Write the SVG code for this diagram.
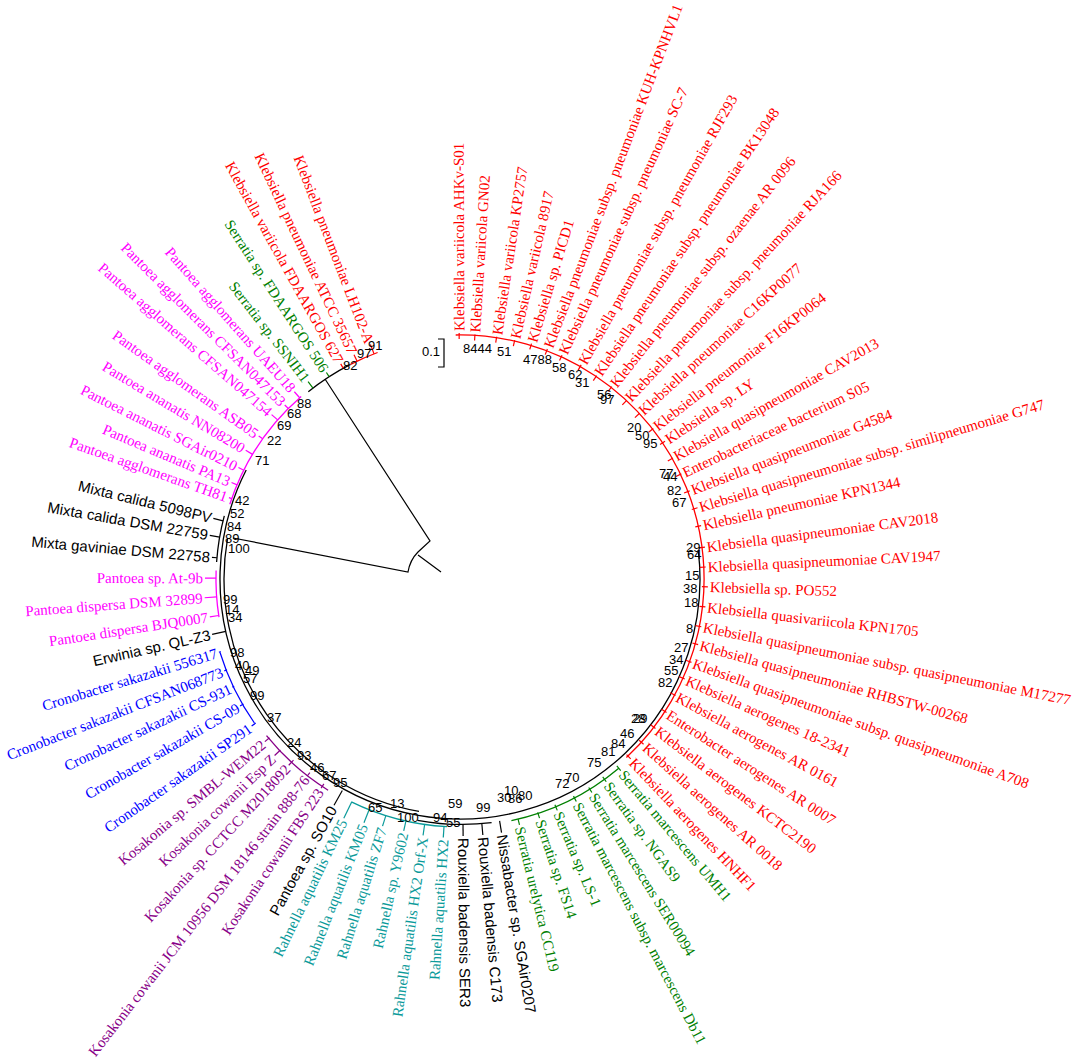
<svg xmlns="http://www.w3.org/2000/svg" width="1084" height="1063" viewBox="0 0 1084 1063">
<style>
text{font-family:"Liberation Serif","Times New Roman",serif;font-size:15px}
.sans text,text.sans{font-family:"Liberation Sans",Arial,sans-serif}
.red text{fill:#f00}.red line{stroke:#f00}
.grn text{fill:#008000}.grn line{stroke:#008000}
.blk text{fill:#000}.blk line{stroke:#000}
.teal text{fill:#0a9a9a}.teal line{stroke:#0a9a9a}
.pur text{fill:#880088}.pur line{stroke:#880088}
.blu text{fill:#0000ff}.blu line{stroke:#0000ff}
.mag text{fill:#ff00ff}.mag line{stroke:#ff00ff}
line{stroke-width:1.2}
.L text{text-anchor:end}
#bootstrap text{font-family:"Liberation Sans",Arial,sans-serif;font-size:13px;fill:#000}
.arc{fill:none;stroke-width:1.3}
</style>
<rect width="1084" height="1063" fill="#fff"/>
<g id="connectors">
<path class="arc" stroke="#f00" d="M455.7,335 A244,244 0 0 1 626.4,757.5"/>
<path class="arc" stroke="#000" d="M698.2,549.8 A240,240 0 1 1 246.2,470"/>
<path class="arc" stroke="#000" d="M419,811.4 A236,236 0 0 1 227.6,538"/>
<path class="arc" stroke="#000" d="M491.6,822.7 A245,245 0 0 1 417.5,820.3"/>
<path class="arc" stroke="#008000" d="M618.8,768.2 A247,247 0 0 1 511.4,820.6"/>
<path class="arc" stroke="#0a9a9a" d="M447,826.7 A248,248 0 0 1 351.3,801.9"/>
<path class="arc" stroke="#880088" d="M328.1,790.2 A249,249 0 0 1 266.5,735.7"/>
<path class="arc" stroke="#0000ff" d="M254.4,723 A251,251 0 0 1 220,652.4"/>
<path class="arc" stroke="#ff00ff" d="M219,617.2 A244,244 0 0 1 216.1,570.5"/>
<path class="arc" stroke="#000" d="M216.6,562 A244,244 0 0 1 224.3,515.8"/>
<path class="arc" stroke="#ff00ff" d="M229.8,504.2 A242,242 0 0 1 301.2,396.4"/>
<path class="arc" stroke="#000" d="M308.3,391.7 A241,241 0 0 1 350.6,364.3"/>
<path class="arc" stroke="#f00" d="M350.6,364.3 A241,241 0 0 1 377.6,352.5"/>
<path fill="none" stroke="#000" stroke-width="1.2" d="M325,379 L430,541 L418,552 Q410,560 408,572 L233,538 M418,555 L441,572"/>
<path fill="none" stroke="#000" stroke-width="1.2" d="M438,339 H444 V367 H438"/>
</g>
<text class="sans" x="422" y="356" style="font-size:13px">0.1</text>
<g id="leaf1" class="red" transform="rotate(-90.2 460 579)"><line x1="700" y1="579" x2="706" y2="579"/><text x="708" y="579" dy=".35em">Klebsiella variicola AHKv-S01</text></g>
<g id="leaf2" class="red" transform="rotate(-86.5 460 579)"><line x1="699" y1="579" x2="705" y2="579"/><text x="707" y="579" dy=".35em">Klebsiella variicola GN02</text></g>
<g id="leaf3" class="red" transform="rotate(-81.4 460 579)"><line x1="699" y1="579" x2="705" y2="579"/><text x="707" y="579" dy=".35em">Klebsiella variicola KP2757</text></g>
<g id="leaf4" class="red" transform="rotate(-77.1 460 579)"><line x1="699" y1="579" x2="705" y2="579"/><text x="707" y="579" dy=".35em">Klebsiella variicola 8917</text></g>
<g id="leaf5" class="red" transform="rotate(-73.1 460 579)"><line x1="700" y1="579" x2="706" y2="579"/><text x="708" y="579" dy=".35em">Klebsiella sp. PICD1</text></g>
<g id="leaf6" class="red" transform="rotate(-69.2 460 579)"><line x1="700" y1="579" x2="706" y2="579"/><text x="708" y="579" dy=".35em">Klebsiella pneumoniae subsp. pneumoniae KUH-KPNHVL1</text></g>
<g id="leaf7" class="red" transform="rotate(-65.5 460 579)"><line x1="700" y1="579" x2="706" y2="579"/><text x="708" y="579" dy=".35em">Klebsiella pneumoniae subsp. pneumoniae SC-7</text></g>
<g id="leaf8" class="red" transform="rotate(-60.5 460 579)"><line x1="700" y1="579" x2="706" y2="579"/><text x="708" y="579" dy=".35em">Klebsiella pneumoniae subsp. pneumoniae RJF293</text></g>
<g id="leaf9" class="red" transform="rotate(-56.1 460 579)"><line x1="699" y1="579" x2="705" y2="579"/><text x="707" y="579" dy=".35em">Klebsiella pneumoniae subsp. pneumoniae BK13048</text></g>
<g id="leaf10" class="red" transform="rotate(-51.7 460 579)"><line x1="699" y1="579" x2="705" y2="579"/><text x="707" y="579" dy=".35em">Klebsiella pneumoniae subsp. ozaenae AR 0096</text></g>
<g id="leaf11" class="red" transform="rotate(-47 460 579)"><line x1="698" y1="579" x2="704" y2="579"/><text x="706" y="579" dy=".35em">Klebsiella pneumoniae subsp. pneumoniae RJA166</text></g>
<g id="leaf12" class="red" transform="rotate(-42.7 460 579)"><line x1="698" y1="579" x2="704" y2="579"/><text x="706" y="579" dy=".35em">Klebsiella pneumoniae C16KP0077</text></g>
<g id="leaf13" class="red" transform="rotate(-37.9 460 579)"><line x1="699" y1="579" x2="705" y2="579"/><text x="707" y="579" dy=".35em">Klebsiella pneumoniae F16KP0064</text></g>
<g id="leaf14" class="red" transform="rotate(-33.9 460 579)"><line x1="701" y1="579" x2="707" y2="579"/><text x="709" y="579" dy=".35em">Klebsiella sp. LY</text></g>
<g id="leaf15" class="red" transform="rotate(-29.6 460 579)"><line x1="699" y1="579" x2="705" y2="579"/><text x="707" y="579" dy=".35em">Klebsiella quasipneumoniae CAV2013</text></g>
<g id="leaf16" class="red" transform="rotate(-25.4 460 579)"><line x1="699" y1="579" x2="705" y2="579"/><text x="707" y="579" dy=".35em">Enterobacteriaceae bacterium S05</text></g>
<g id="leaf17" class="red" transform="rotate(-21 460 579)"><line x1="700" y1="579" x2="706" y2="579"/><text x="708" y="579" dy=".35em">Klebsiella quasipneumoniae G4584</text></g>
<g id="leaf18" class="red" transform="rotate(-16.7 460 579)"><line x1="702" y1="579" x2="708" y2="579"/><text x="710" y="579" dy=".35em">Klebsiella quasipneumoniae subsp. similipneumoniae G747</text></g>
<g id="leaf19" class="red" transform="rotate(-12.5 460 579)"><line x1="701" y1="579" x2="707" y2="579"/><text x="709" y="579" dy=".35em">Klebsiella pneumoniae KPN1344</text></g>
<g id="leaf20" class="red" transform="rotate(-7.4 460 579)"><line x1="701" y1="579" x2="707" y2="579"/><text x="709" y="579" dy=".35em">Klebsiella quasipneumoniae CAV2018</text></g>
<g id="leaf21" class="red" transform="rotate(-2.8 460 579)"><line x1="700" y1="579" x2="706" y2="579"/><text x="708" y="579" dy=".35em">Klebsiella quasipneumoniae CAV1947</text></g>
<g id="leaf22" class="red" transform="rotate(1.8 460 579)"><line x1="702" y1="579" x2="708" y2="579"/><text x="710" y="579" dy=".35em">Klebsiella sp. PO552</text></g>
<g id="leaf23" class="red" transform="rotate(6.5 460 579)"><line x1="701" y1="579" x2="707" y2="579"/><text x="709" y="579" dy=".35em">Klebsiella quasivariicola KPN1705</text></g>
<g id="leaf24" class="red" transform="rotate(11.2 460 579)"><line x1="700" y1="579" x2="706" y2="579"/><text x="708" y="579" dy=".35em">Klebsiella quasipneumoniae subsp. quasipneumoniae M17277</text></g>
<g id="leaf25" class="red" transform="rotate(15.4 460 579)"><line x1="701" y1="579" x2="707" y2="579"/><text x="709" y="579" dy=".35em">Klebsiella quasipneumoniae RHBSTW-00268</text></g>
<g id="leaf26" class="red" transform="rotate(19.8 460 579)"><line x1="700" y1="579" x2="706" y2="579"/><text x="708" y="579" dy=".35em">Klebsiella quasipneumoniae subsp. quasipneumoniae A708</text></g>
<g id="leaf27" class="red" transform="rotate(24 460 579)"><line x1="700" y1="579" x2="706" y2="579"/><text x="708" y="579" dy=".35em">Klebsiella aerogenes 18-2341</text></g>
<g id="leaf28" class="red" transform="rotate(28.4 460 579)"><line x1="699" y1="579" x2="705" y2="579"/><text x="707" y="579" dy=".35em">Klebsiella aerogenes AR 0161</text></g>
<g id="leaf29" class="red" transform="rotate(32.9 460 579)"><line x1="700" y1="579" x2="706" y2="579"/><text x="708" y="579" dy=".35em">Enterobacter aerogenes AR 0007</text></g>
<g id="leaf30" class="red" transform="rotate(37.4 460 579)"><line x1="700" y1="579" x2="706" y2="579"/><text x="708" y="579" dy=".35em">Klebsiella aerogenes KCTC2190</text></g>
<g id="leaf31" class="red" transform="rotate(42 460 579)"><line x1="701" y1="579" x2="707" y2="579"/><text x="709" y="579" dy=".35em">Klebsiella aerogenes AR 0018</text></g>
<g id="leaf32" class="red" transform="rotate(46.5 460 579)"><line x1="702" y1="579" x2="708" y2="579"/><text x="710" y="579" dy=".35em">Klebsiella aerogenes HNHF1</text></g>
<g id="leaf33" class="grn" transform="rotate(50 460 579)"><line x1="704" y1="579" x2="710" y2="579"/><text x="712" y="579" dy=".35em">Serratia marcescens UMH1</text></g>
<g id="leaf34" class="grn" transform="rotate(54.2 460 579)"><line x1="704" y1="579" x2="710" y2="579"/><text x="712" y="579" dy=".35em">Serratia sp. NGAS9</text></g>
<g id="leaf35" class="grn" transform="rotate(58.3 460 579)"><line x1="705" y1="579" x2="711" y2="579"/><text x="713" y="579" dy=".35em">Serratia marcescens SER00094</text></g>
<g id="leaf36" class="grn" transform="rotate(62.4 460 579)"><line x1="705" y1="579" x2="711" y2="579"/><text x="713" y="579" dy=".35em">Serratia marcescens subsp. marcescens Db11</text></g>
<g id="leaf37" class="grn" transform="rotate(67.2 460 579)"><line x1="705" y1="579" x2="711" y2="579"/><text x="713" y="579" dy=".35em">Serratia sp. LS-1</text></g>
<g id="leaf38" class="grn" transform="rotate(71.6 460 579)"><line x1="706" y1="579" x2="712" y2="579"/><text x="714" y="579" dy=".35em">Serratia sp. FS14</text></g>
<g id="leaf39" class="grn" transform="rotate(76.4 460 579)"><line x1="707" y1="579" x2="713" y2="579"/><text x="715" y="579" dy=".35em">Serratia urelytica CC119</text></g>
<g id="leaf40" class="blk sans" transform="rotate(80.7 460 579)"><line x1="705" y1="579" x2="717" y2="579"/><text x="719" y="579" dy=".35em">Nissabacter sp. SGAir0207</text></g>
<g id="leaf41" class="blk sans" transform="rotate(84.9 460 579)"><line x1="705" y1="579" x2="717" y2="579"/><text x="719" y="579" dy=".35em">Rouxiella badensis C173</text></g>
<g id="leaf42" class="blk sans" transform="rotate(89.3 460 579)"><line x1="705" y1="579" x2="717" y2="579"/><text x="719" y="579" dy=".35em">Rouxiella badensis SER3</text></g>
<g id="leaf43" class="teal L" transform="rotate(-86.3 460 579)"><line x1="201" y1="579" x2="212" y2="579"/><text x="199" y="579" dy=".35em">Rahnella aquatilis HX2</text></g>
<g id="leaf44" class="teal L" transform="rotate(-81.8 460 579)"><line x1="201" y1="579" x2="212" y2="579"/><text x="199" y="579" dy=".35em">Rahnella aquatilis HX2 Orf-X</text></g>
<g id="leaf45" class="teal L" transform="rotate(-77.4 460 579)"><line x1="202" y1="579" x2="212" y2="579"/><text x="200" y="579" dy=".35em">Rahnella sp. Y9602</text></g>
<g id="leaf46" class="teal L" transform="rotate(-72.6 460 579)"><line x1="201" y1="579" x2="212" y2="579"/><text x="199" y="579" dy=".35em">Rahnella aquatilis ZF7</text></g>
<g id="leaf47" class="teal L" transform="rotate(-68.5 460 579)"><line x1="198" y1="579" x2="212" y2="579"/><text x="196" y="579" dy=".35em">Rahnella aquatilis KM05</text></g>
<g id="leaf48" class="teal L" transform="rotate(-64.1 460 579)"><line x1="194" y1="579" x2="212" y2="579"/><text x="192" y="579" dy=".35em">Rahnella aquatilis KM25</text></g>
<g id="leaf49" class="blk sans L" transform="rotate(-60.9 460 579)"><line x1="201" y1="579" x2="218" y2="579"/><text x="199" y="579" dy=".35em">Pantoea sp. SO10</text></g>
<g id="leaf50" class="pur L" transform="rotate(-56.4 460 579)"><line x1="209" y1="579" x2="214" y2="579"/><text x="207" y="579" dy=".35em">Kosakonia cowanii FBS 223</text></g>
<g id="leaf51" class="pur L" transform="rotate(-52.2 460 579)"><line x1="211" y1="579" x2="215" y2="579"/><text x="209" y="579" dy=".35em">Kosakonia cowanii JCM 10956 DSM 18146 strain 888-76</text></g>
<g id="leaf52" class="pur L" transform="rotate(-47.4 460 579)"><line x1="207" y1="579" x2="214" y2="579"/><text x="205" y="579" dy=".35em">Kosakonia sp. CCTCC M2018092</text></g>
<g id="leaf53" class="pur L" transform="rotate(-43.6 460 579)"><line x1="204" y1="579" x2="212" y2="579"/><text x="202" y="579" dy=".35em">Kosakonia cowanii Esp Z</text></g>
<g id="leaf54" class="pur L" transform="rotate(-39.8 460 579)"><line x1="206" y1="579" x2="212" y2="579"/><text x="204" y="579" dy=".35em">Kosakonia sp. SMBL-WEM22</text></g>
<g id="leaf55" class="blu L" transform="rotate(-35.2 460 579)"><line x1="205" y1="579" x2="210" y2="579"/><text x="203" y="579" dy=".35em">Cronobacter sakazakii SP291</text></g>
<g id="leaf56" class="blu L" transform="rotate(-30 460 579)"><line x1="206" y1="579" x2="210" y2="579"/><text x="204" y="579" dy=".35em">Cronobacter sakazakii CS-09</text></g>
<g id="leaf57" class="blu L" transform="rotate(-25.4 460 579)"><line x1="208" y1="579" x2="210" y2="579"/><text x="206" y="579" dy=".35em">Cronobacter sakazakii CS-931</text></g>
<g id="leaf58" class="blu L" transform="rotate(-21.3 460 579)"><line x1="207" y1="579" x2="210" y2="579"/><text x="205" y="579" dy=".35em">Cronobacter sakazakii CFSAN068773</text></g>
<g id="leaf59" class="blu L" transform="rotate(-16.9 460 579)"><line x1="208" y1="579" x2="210" y2="579"/><text x="206" y="579" dy=".35em">Cronobacter sakazakii 556317</text></g>
<g id="leaf60" class="blk sans L" transform="rotate(-12.6 460 579)"><line x1="206" y1="579" x2="220" y2="579"/><text x="204" y="579" dy=".35em">Erwinia sp. QL-Z3</text></g>
<g id="leaf61" class="mag L" transform="rotate(-8.6 460 579)"><line x1="207" y1="579" x2="216" y2="579"/><text x="205" y="579" dy=".35em">Pantoea dispersa BJQ0007</text></g>
<g id="leaf62" class="mag L" transform="rotate(-4.2 460 579)"><line x1="204" y1="579" x2="216" y2="579"/><text x="202" y="579" dy=".35em">Pantoea dispersa DSM 32899</text></g>
<g id="leaf63" class="mag L" transform="rotate(0.2 460 579)"><line x1="205" y1="579" x2="216" y2="579"/><text x="203" y="579" dy=".35em">Pantoea sp. At-9b</text></g>
<g id="leaf64" class="blk sans L" transform="rotate(5 460 579)"><line x1="211" y1="579" x2="216" y2="579"/><text x="209" y="579" dy=".35em">Mixta gaviniae DSM 22758</text></g>
<g id="leaf65" class="blk sans L" transform="rotate(9.9 460 579)"><line x1="206" y1="579" x2="216" y2="579"/><text x="204" y="579" dy=".35em">Mixta calida DSM 22759</text></g>
<g id="leaf66" class="blk sans L" transform="rotate(13.8 460 579)"><line x1="206" y1="579" x2="216" y2="579"/><text x="204" y="579" dy=".35em">Mixta calida 5098PV</text></g>
<g id="leaf67" class="mag L" transform="rotate(19.4 460 579)"><line x1="215" y1="579" x2="218" y2="579"/><text x="213" y="579" dy=".35em">Pantoea agglomerans TH81</text></g>
<g id="leaf68" class="mag L" transform="rotate(22.9 460 579)"><line x1="212" y1="579" x2="218" y2="579"/><text x="210" y="579" dy=".35em">Pantoea ananatis PA13</text></g>
<g id="leaf69" class="mag L" transform="rotate(26.7 460 579)"><line x1="212" y1="579" x2="218" y2="579"/><text x="210" y="579" dy=".35em">Pantoea ananatis SGAir0210</text></g>
<g id="leaf70" class="mag L" transform="rotate(31 460 579)"><line x1="210" y1="579" x2="218" y2="579"/><text x="208" y="579" dy=".35em">Pantoea ananatis NN08200</text></g>
<g id="leaf71" class="mag L" transform="rotate(35.4 460 579)"><line x1="213" y1="579" x2="218" y2="579"/><text x="211" y="579" dy=".35em">Pantoea agglomerans ASB05</text></g>
<g id="leaf72" class="mag L" transform="rotate(41.1 460 579)"><line x1="210" y1="579" x2="218" y2="579"/><text x="208" y="579" dy=".35em">Pantoea agglomerans CFSAN047154</text></g>
<g id="leaf73" class="mag L" transform="rotate(44.8 460 579)"><line x1="213" y1="579" x2="218" y2="579"/><text x="211" y="579" dy=".35em">Pantoea agglomerans CFSAN047153</text></g>
<g id="leaf74" class="mag L" transform="rotate(48.5 460 579)"><line x1="210" y1="579" x2="218" y2="579"/><text x="208" y="579" dy=".35em">Pantoea agglomerans UAEU18</text></g>
<g id="leaf75" class="grn L" transform="rotate(52.4 460 579)"><line x1="211" y1="579" x2="219" y2="579"/><text x="209" y="579" dy=".35em">Serratia sp. SSNIH1</text></g>
<g id="leaf76" class="grn L" transform="rotate(57.1 460 579)"><line x1="214" y1="579" x2="219" y2="579"/><text x="212" y="579" dy=".35em">Serratia sp. FDAARGOS 506</text></g>
<g id="leaf77" class="red L" transform="rotate(61 460 579)"><line x1="214" y1="579" x2="219" y2="579"/><text x="212" y="579" dy=".35em">Klebsiella variicola FDAARGOS 627</text></g>
<g id="leaf78" class="red L" transform="rotate(64.7 460 579)"><line x1="212" y1="579" x2="219" y2="579"/><text x="210" y="579" dy=".35em">Klebsiella pneumoniae ATCC 35657</text></g>
<g id="leaf79" class="red L" transform="rotate(69.1 460 579)"><line x1="209" y1="579" x2="219" y2="579"/><text x="207" y="579" dy=".35em">Klebsiella pneumoniae LH102-A</text></g>
<g id="bootstrap">
<text x="463" y="353">8444</text><text x="497" y="356">51</text><text x="523" y="364">4788</text><text x="552" y="372">58</text>
<text x="568" y="379">62</text><text x="575" y="387">31</text><text x="597" y="399">56</text><text x="600" y="404">97</text>
<text x="627" y="432">20</text><text x="635" y="440">50</text><text x="643" y="448">95</text><text x="659" y="478">77</text>
<text x="663" y="481">44</text><text x="667" y="495">82</text><text x="672" y="507">67</text><text x="686" y="552">29</text>
<text x="687" y="559">64</text><text x="685" y="580">15</text><text x="683" y="593">38</text><text x="684" y="607">18</text>
<text x="686" y="633">8</text><text x="674" y="652">27</text><text x="669" y="664">34</text><text x="664" y="675">55</text>
<text x="658" y="687">82</text><text x="631" y="723">28</text><text x="633" y="723">29</text><text x="620" y="738">46</text>
<text x="611" y="748">84</text><text x="601" y="756">81</text><text x="587" y="767">75</text><text x="565" y="782">70</text>
<text x="555" y="788">72</text><text x="497" y="802">30</text><text x="504" y="795">10</text><text x="508" y="803">86</text>
<text x="518" y="800">80</text><text x="476" y="812">99</text><text x="448" y="808">59</text><text x="433" y="822">94</text>
<text x="446" y="827">55</text><text x="397" y="822">100</text><text x="390" y="808">13</text><text x="368" y="812">65</text>
<text x="333" y="787">95</text><text x="322" y="780">67</text><text x="310" y="772">46</text><text x="297" y="760">93</text>
<text x="287" y="747">24</text><text x="267" y="722">37</text><text x="250" y="700">99</text><text x="243" y="683">57</text>
<text x="245" y="675">49</text><text x="235" y="670">40</text><text x="230" y="657">98</text><text x="228" y="622">34</text>
<text x="225" y="614">14</text><text x="223" y="604">99</text><text x="228" y="553">100</text><text x="225" y="543">89</text>
<text x="227" y="531">84</text><text x="230" y="518">52</text><text x="235" y="505">42</text><text x="255" y="465">71</text>
<text x="267" y="445">22</text><text x="277" y="430">69</text><text x="287" y="418">68</text><text x="297" y="408">88</text>
<text x="343" y="370">82</text><text x="357" y="358">97</text><text x="368" y="350">91</text>
</g>
</svg>
